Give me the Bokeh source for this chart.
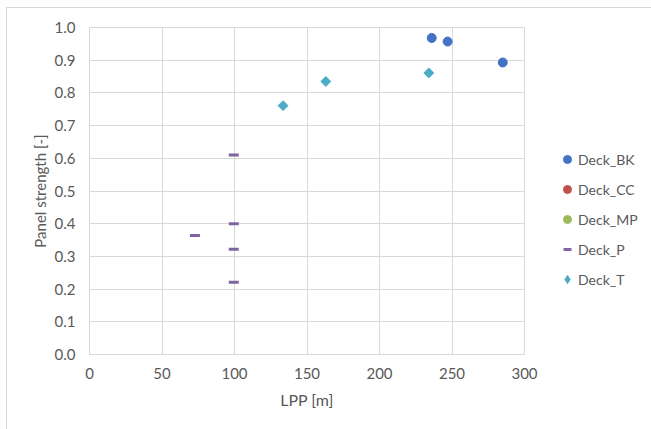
import math
from bokeh.plotting import figure
from bokeh.models import Legend, LegendItem, Range1d, FixedTicker, CustomJSTickFormatter
from bokeh.embed import file_html
from bokeh.resources import INLINE

# Data
bk_x = [236, 247, 285]
bk_y = [0.968, 0.957, 0.893]
cc_x = [float("nan")]   # series present in legend only, no visible points
cc_y = [float("nan")]
mp_x = [float("nan")]
mp_y = [float("nan")]
p_x = [99.5, 99.5, 72.7, 99.5, 99.5]
p_y = [0.610, 0.400, 0.364, 0.322, 0.221]
t_x = [133.5, 163, 234]
t_y = [0.761, 0.835, 0.861]

x_ticks = [0, 50, 100, 150, 200, 250, 300]
y_ticks = [0.0, 0.1, 0.2, 0.3, 0.4, 0.5, 0.6, 0.7, 0.8, 0.9, 1.0]

FONT = "Lato"
GREY = "#595959"

p = figure(frame_width=435, frame_height=327, output_backend="svg", toolbar_location=None,
           x_range=Range1d(0, 300), y_range=Range1d(0, 1.0),
           min_border_left=82, min_border_right=120, min_border_top=19, min_border_bottom=75,
           margin=(7, 0, 0, 6))
p.styles = {"border-top": "1px solid #d9d9d9", "border-left": "1px solid #d9d9d9"}
p.outline_line_color = "#d9d9d9"
p.background_fill_color = "white"
p.border_fill_color = "white"

p.xaxis.ticker = FixedTicker(ticks=x_ticks)
p.yaxis.ticker = FixedTicker(ticks=y_ticks)
p.yaxis.formatter = CustomJSTickFormatter(code="return tick.toFixed(1);")

for ax in (p.xaxis[0], p.yaxis[0]):
    ax.major_tick_line_color = None
    ax.minor_tick_line_color = None
    ax.major_label_text_font = FONT
    ax.major_label_text_font_size = "15px"
    ax.major_label_text_color = GREY
    ax.axis_label_text_font = FONT
    ax.axis_label_text_color = GREY
    ax.axis_label_text_font_style = "normal"
p.xaxis.axis_label_text_font_size = "16px"
p.yaxis.axis_label_text_font_size = "15px"
p.xaxis.axis_line_color = "#d9d9d9"
p.yaxis.axis_line_color = None
p.xaxis.axis_label = "LPP [m]"
p.yaxis.axis_label = "Panel strength [-]"
p.xaxis.major_label_standoff = 7
p.yaxis.major_label_standoff = 8
p.xaxis.axis_label_standoff = 8
p.yaxis.axis_label_standoff = 3

p.xgrid.grid_line_color = "#d9d9d9"
p.ygrid.grid_line_color = "#d9d9d9"

r_bk = p.scatter(bk_x, bk_y, marker="circle", size=9, fill_color="#4472C4", line_color="#4472C4")
r_cc = p.scatter(cc_x, cc_y, marker="circle", size=9, fill_color="#C0504D", line_color="#C0504D")
r_mp = p.scatter(mp_x, mp_y, marker="circle", size=9, fill_color="#9BBB59", line_color="#9BBB59")
r_p = p.scatter(p_x, p_y, marker="dash", size=10, line_color="#8064A2", line_width=3)
r_t = p.scatter(t_x, t_y, marker="square", angle=math.pi / 4, size=7, fill_color="#4BACC6", line_color="#4BACC6")
# legend swatch for Deck_T (legend glyphs ignore marker angle)
r_t_leg = p.scatter([float("nan")], [float("nan")], marker="diamond", size=9,
                    fill_color="#4BACC6", line_color="#4BACC6")

legend = Legend(items=[
    LegendItem(label="Deck_BK", renderers=[r_bk]),
    LegendItem(label="Deck_CC", renderers=[r_cc]),
    LegendItem(label="Deck_MP", renderers=[r_mp]),
    LegendItem(label="Deck_P", renderers=[r_p]),
    LegendItem(label="Deck_T", renderers=[r_t_leg]),
], location=(33, 65))
legend.border_line_color = None
legend.background_fill_alpha = 0
legend.label_text_font = FONT
legend.label_text_font_size = "14px"
legend.label_text_color = GREY
legend.glyph_width = 20
legend.glyph_height = 20
legend.label_height = 20
legend.spacing = 10
legend.label_standoff = 1
legend.padding = 0
legend.margin = 0
p.add_layout(legend, "right")

open("out.html", "w").write(file_html(p, INLINE))
